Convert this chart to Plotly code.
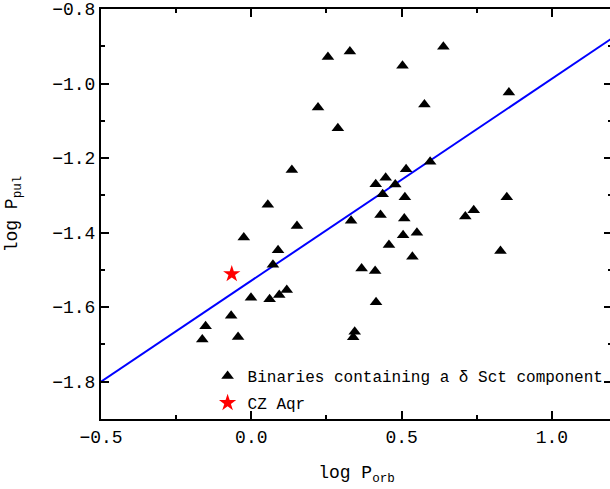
import plotly.graph_objects as go

# Binaries with a delta Scuti component: orbital vs pulsation period (log days)
logP_orb = [0.255, 0.328, 0.639, 0.503, 0.222, 0.576, 0.288, 0.857,
            0.135, 0.055, 0.152, -0.025, 0.089, 0.072, 0.118, 0.093, 0.061,
            -0.001, -0.067, -0.152, -0.163, -0.044,
            0.595, 0.515, 0.447, 0.414, 0.479, 0.437, 0.511, 0.430, 0.509,
            0.332, 0.505, 0.551, 0.458, 0.536, 0.367, 0.412, 0.415, 0.344, 0.339,
            0.850, 0.740, 0.712, 0.829]
logP_pul = [-0.929, -0.914, -0.901, -0.952, -1.064, -1.056, -1.120, -1.024,
            -1.232, -1.325, -1.382, -1.413, -1.447, -1.486, -1.554, -1.567, -1.579,
            -1.575, -1.623, -1.651, -1.687, -1.680,
            -1.210, -1.230, -1.253, -1.270, -1.271, -1.297, -1.305, -1.353, -1.362,
            -1.368, -1.407, -1.400, -1.433, -1.465, -1.496, -1.503, -1.587, -1.666, -1.681,
            -1.305, -1.340, -1.357, -1.449]

# CZ Aqr
cz_orb = [-0.065]
cz_pul = [-1.511]

# Linear relation log P_pul = a * log P_orb + b
fit_slope = 0.542
fit_intercept = -1.529
fit_x = [-0.5, 1.2]
fit_y = [fit_slope * v + fit_intercept for v in fit_x]

# Tick positions
x_ticks = [-0.5, 0.0, 0.5, 1.0]
y_ticks = [-1.8, -1.6, -1.4, -1.2, -1.0, -0.8]

FONT = "Liberation Mono"

fig = go.Figure()
fig.add_trace(go.Scatter(
    x=fit_x, y=fit_y, mode="lines", showlegend=False,
    line=dict(color="#0000ff", width=2), hoverinfo="skip"))
fig.add_trace(go.Scatter(
    x=logP_orb, y=logP_pul, mode="markers", legendgroup="a",
    name="Binaries containing a δ Sct component",
    marker=dict(symbol="triangle-up", size=11, color="black")))
fig.add_trace(go.Scatter(
    x=cz_orb, y=cz_pul, mode="markers", name="CZ Aqr", legendgroup="b",
    marker=dict(symbol="star", size=13, color="red", line=dict(width=0))))

axis_common = dict(
    showline=True, linecolor="black", linewidth=2, mirror="ticks",
    ticks="inside", ticklen=8, tickwidth=1.5, tickcolor="black",
    showgrid=False, zeroline=False, tickformat=".1f",
    ticklabeloverflow="allow",
    tickfont=dict(family=FONT, size=18, color="black"),
)

fig.update_layout(
    width=614, height=489,
    margin=dict(l=101, r=0, t=7, b=70),
    paper_bgcolor="white", plot_bgcolor="white",
    font=dict(family=FONT, color="black"),
    xaxis=dict(
        range=[-0.5, 1.2], tickmode="array", tickvals=x_ticks,
        minor=dict(dtick=0.25, tick0=-0.5, ticks="inside", ticklen=4,
                   tickwidth=1.5, tickcolor="black", showgrid=False),
        title=dict(text="log P<sub>orb</sub>",
                   font=dict(family=FONT, size=18, color="black"), standoff=19),
        **axis_common),
    yaxis=dict(
        range=[-1.9, -0.8], tickmode="array", tickvals=y_ticks,
        minor=dict(dtick=0.1, tick0=-0.8, ticks="inside", ticklen=4,
                   tickwidth=1.5, tickcolor="black", showgrid=False),
        title=dict(text="log P<sub>pul</sub>",
                   font=dict(family=FONT, size=18, color="black"), standoff=30),
        **axis_common),
    legend=dict(
        x=0.2086, y=0.146, xanchor="left", yanchor="top",
        traceorder="grouped", tracegroupgap=3,
        bgcolor="rgba(0,0,0,0)", borderwidth=0,
        font=dict(family=FONT, size=16, color="black")),
)

fig.write_html(
    "out.html",
    post_script="document.documentElement.style.overflow='hidden';"
                "document.body.style.overflow='hidden';")
